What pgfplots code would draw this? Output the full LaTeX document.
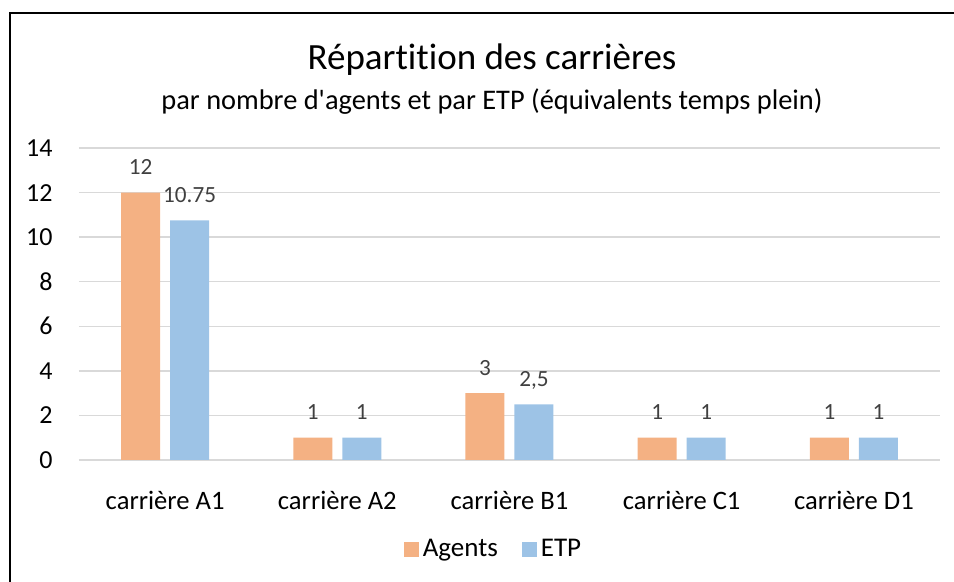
\documentclass[border=0pt]{standalone}
\usepackage{fontspec}
\setmainfont{Carlito}[Ligatures={NoCommon}]
\usepackage{pgfplots}
\usepackage{pgfplotstable}
\pgfplotsset{compat=1.18}
\definecolor{agentcol}{HTML}{F4B183}
\definecolor{etpcol}{HTML}{9DC3E6}
\definecolor{gridgray}{HTML}{D9D9D9}
\definecolor{labgray}{HTML}{404040}

\pgfplotstableread{
x agents alab etp elab
0 12 12 10.75 10.75
1 1 1 1 1
2 3 3 2.5 2,5
3 1 1 1 1
4 1 1 1 1
}\data

\begin{document}
\begin{tikzpicture}
\path[use as bounding box] (0,0) rectangle (477pt,291pt);
\draw[line width=0.8pt] (5pt,0) -- (5pt,284.5pt) -- (477pt,284.5pt);
\node[anchor=base, font=\fontsize{18.5}{22}\selectfont] at (246pt,256pt) {Répartition des carrières};
\node[anchor=base, font=\fontsize{14.2}{17}\selectfont] at (246pt,236pt) {par nombre d\textquotesingle agents et par ETP (équivalents temps plein)};
\begin{axis}[
  at={(39.5pt,61pt)}, anchor=south west,
  scale only axis, width=430.5pt, height=156pt,
  xmin=-0.5, xmax=4.5, ymin=0, ymax=14,
  ybar=5pt, bar width=19.5pt,
  axis line style={draw=none},
  tick style={draw=none},
  ymajorgrids, grid style={draw=gridgray, line width=0.75pt},
  ytick={0,2,...,14},
  xtick={0,...,4},
  xticklabels={carrière A1,carrière A2,carrière B1,carrière C1,carrière D1},
  /pgf/number format/assume math mode=true,
  yticklabel style={anchor=east, inner sep=0pt, xshift=-13pt, font=\fontsize{13}{15}\selectfont},
  xticklabel style={anchor=base, inner sep=0pt, yshift=-20.5pt, font=\fontsize{13.3}{15}\selectfont},
  point meta=explicit symbolic,
  nodes near coords,
  every node near coord/.append style={anchor=base, inner sep=0pt, yshift=9pt, text=labgray, font=\fontsize{11.6}{14}\selectfont},
  legend style={at={(0.4826,-0.2853)}, anchor=center, draw=none, fill=none,
    legend columns=2, font=\fontsize{13.5}{15}\selectfont,
    /tikz/every even column/.append style={column sep=10pt}},
  legend image code/.code={\fill[#1] (-1.5pt,-3.75pt) rectangle (6pt,3.75pt);},
]
\addplot[fill=agentcol, draw=none] table[x=x, y=agents, meta=alab] {\data};
\addplot[fill=etpcol, draw=none] table[x=x, y=etp, meta=elab] {\data};
\legend{Agents, ETP}
\end{axis}
\end{tikzpicture}
\end{document}
